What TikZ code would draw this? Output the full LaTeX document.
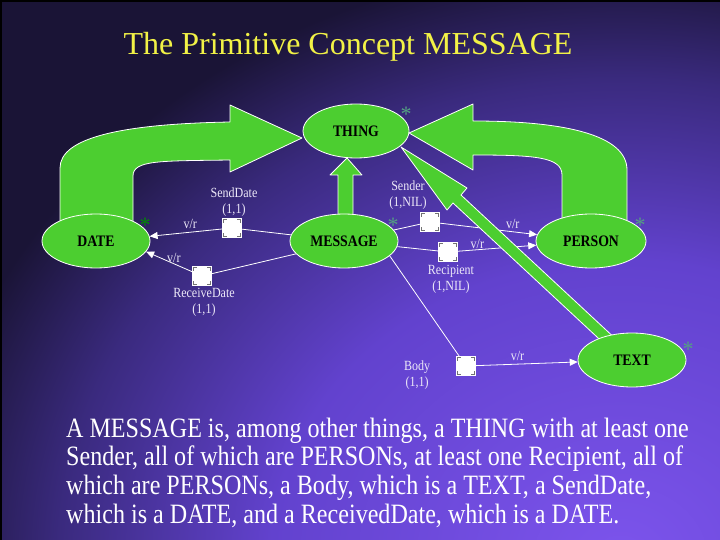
\documentclass[tikz,border=0pt]{standalone}
\usepackage{fontspec}
\setmainfont{Liberation Serif}
\newfontfamily\narrowserif[FakeStretch=0.86]{Liberation Serif}
\usetikzlibrary{shapes.geometric,arrows.meta,positioning,calc}

\definecolor{isagreen}{RGB}{76,206,48}
\definecolor{titleyellow}{RGB}{242,242,70}
\definecolor{labelwhite}{RGB}{236,232,248}
\definecolor{startint}{RGB}{84,160,130}
\definecolor{bgA}{RGB}{124,84,236}
\definecolor{bgB}{RGB}{98,66,206}
\definecolor{bgC}{RGB}{58,42,126}
\definecolor{bgD}{RGB}{26,20,54}

% glow of the slide, centre at the lower right
\pgfdeclareradialshading{slideglow}{\pgfpoint{0bp}{0bp}}{color(0bp)=(bgA); color(10.4bp)=(bgB); color(16.7bp)=(bgC); color(20.8bp)=(bgD); color(50bp)=(bgD)}

\pgfdeclarelayer{bg}
\pgfdeclarelayer{links}
\pgfdeclarelayer{isa}
\pgfsetlayers{bg,links,isa,main}

\tikzset{
  concept/.style={ellipse, draw=white, line width=0.8pt, fill=isagreen, inner sep=0pt,
    minimum height=54pt, font=\narrowserif\bfseries\fontsize{16}{16}\selectfont, text=black},
  slotbox/.style={rectangle, fill=white, draw=white, minimum size=19pt, inner sep=0pt,
    path picture={
      \draw[black!55, line width=0.6pt]
        ([xshift=1.2pt,yshift=-4.2pt]path picture bounding box.north west) -- ++(0pt,3pt) -- ++(3pt,0pt)
        ([xshift=-4.2pt,yshift=-1.2pt]path picture bounding box.north east) -- ++(3pt,0pt) -- ++(0pt,-3pt)
        ([xshift=1.2pt,yshift=4.2pt]path picture bounding box.south west) -- ++(0pt,-3pt) -- ++(3pt,0pt)
        ([xshift=-4.2pt,yshift=1.2pt]path picture bounding box.south east) -- ++(3pt,0pt) -- ++(0pt,3pt);
    }},
  slotlabel/.style={font=\narrowserif\fontsize{14}{16}\selectfont, text=labelwhite, align=center, inner sep=0pt},
  vr/.style={font=\narrowserif\fontsize{14}{14}\selectfont, text=labelwhite, inner sep=0pt},
  link/.style={draw=white, line width=0.8pt},
  linkarrow/.style={link, -{Triangle[length=8pt,width=7pt,fill=white]}},
  isaarrow/.style={fill=isagreen, draw=white, line width=0.8pt, line join=round},
  staricon/.style={font=\fontsize{22}{22}\selectfont, text=startint, inner sep=0pt, anchor=base},
  titletext/.style={font=\fontsize{32}{32}\selectfont, text=titleyellow, inner sep=0pt, anchor=base},
  bodyline/.style={font=\narrowserif\fontsize{28}{29}\selectfont, text=white, inner sep=0pt, anchor=base west},
}

\begin{document}
\begin{tikzpicture}[x=1pt,y=-1pt]

\useasboundingbox (0,0) rectangle (720,540);

% slide background
\begin{pgfonlayer}{bg}
\fill[bgD] (0,0) rectangle (720,540);
\begin{scope}
\clip (0,0) rectangle (720,540);
\shade[shading=slideglow] (-220,-160) rectangle (1460,1280);
\end{scope}
\fill[black] (0,0) rectangle (720,2);
\fill[black] (0,0) rectangle (1.5,540);
\end{pgfonlayer}

\node[titletext] (title) at (348,55) {The Primitive Concept MESSAGE};

% concepts
\node[concept, minimum width=106pt] (thing) at (356,131) {THING};
\node[concept, minimum width=108pt] (msg) at (344,241) {MESSAGE};
\node[concept, minimum width=108pt] (date) at (96,241) {DATE};
\node[concept, minimum width=110pt] (person) at (591,241) {PERSON};
\node[concept, minimum width=108pt] (txt) at (632,360) {TEXT};

\node[staricon] (thingstar) at (406,122) {*};
\node[staricon, text=green!55!black] (datestar) at (145,233) {*};
\node[staricon] (msgstar) at (393,233) {*};
\node[staricon] (personstar) at (640,233) {*};
\node[staricon] (txtstar) at (688,356) {*};

% roles
\node[slotbox] (sd) at (232,228) {};
\node[slotbox] (rd) at (202,276) {};
\node[slotbox] (snd) at (430,222) {};
\node[slotbox] (rcp) at (448,252) {};
\node[slotbox] (bdy) at (466,366) {};

\node[slotlabel, above=2pt of sd, xshift=2pt] (sdlabel) {SendDate\\(1,1)};
\node[slotlabel, below=2pt of rd, xshift=2pt] (rdlabel) {ReceiveDate\\(1,1)};
\node[slotlabel, above=3pt of snd, xshift=-22pt] (sndlabel) {Sender\\(1,NIL)};
\node[slotlabel, below=3pt of rcp, xshift=3pt] (rcplabel) {Recipient\\(1,NIL)};
\node[slotlabel, left=26pt of bdy, yshift=-9pt] (bdylabel) {Body\\(1,1)};

\begin{pgfonlayer}{links}
\draw[link] (msg) -- (sd);
\draw[linkarrow] (sd) -- node[vr, pos=0.44, above=3pt] {v/r} (date.5);
\draw[link] (msg.-165) -- (rd);
\draw[linkarrow] (rd) -- node[vr, pos=0.4, above=1pt] {v/r} (date.-12);
\draw[link] (msg) -- (snd);
\draw[linkarrow] (snd) -- node[vr, pos=0.75, above=3pt] {v/r} (person);
\draw[link] (msg) -- (rcp);
\draw[linkarrow] (rcp) -- node[vr, pos=0.25, above=1pt] {v/r} (person);
\draw[link] (msg.-18) -- (bdy);
\draw[linkarrow] (bdy) -- node[vr, pos=0.41, above=3pt] {v/r} (txt);
\end{pgfonlayer}

% is-a arrows
\begin{pgfonlayer}{isa}
\filldraw[isaarrow] (60,236) -- (60,168) .. controls (60,138) and (120,124) .. (230,122)
  -- (230,105) -- (302,138) -- (230,172) -- (230,160)
  .. controls (160,161) and (133,160) .. (133,176) -- (133,236) -- cycle;
\filldraw[isaarrow] (627,236) -- (627,170) .. controls (627,135) and (565,121) .. (473,121)
  -- (473,104) -- (409,133) -- (473,170) -- (473,155)
  .. controls (535,155) and (562,157) .. (562,175) -- (562,236) -- cycle;
\filldraw[isaarrow] (338,226) -- (338,175) -- (330,175) -- (347,158) -- (362,175)
  -- (353,175) -- (353,226) -- cycle;
\filldraw[isaarrow] (401,147) -- (467,188) -- (461,195) -- (619,342) -- (611,350)
  -- (453,203) -- (447,210) -- cycle;
\end{pgfonlayer}

% definition text
\foreach \sentence [count=\i] in {{A MESSAGE is, among other things, a THING with at least one},
  {Sender, all of which are PERSONs, at least one Recipient, all of},
  {which are PERSONs, a Body, which is a TEXT, a SendDate,},
  {which is a DATE, and a ReceivedDate, which is a DATE.}}
  \node[bodyline] (body\i) at (66,{437+28.7*(\i-1)}) {\sentence};

\end{tikzpicture}
\end{document}
